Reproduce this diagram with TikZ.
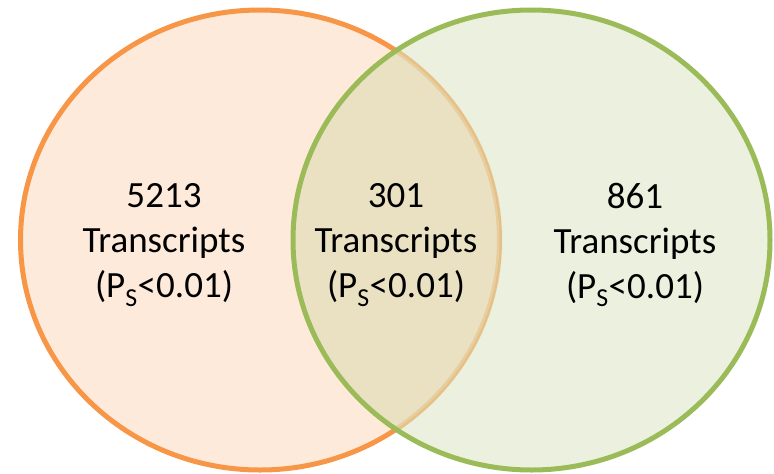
\documentclass[tikz,border=0pt]{standalone}
\usepackage{fontspec}
\setmainfont{Carlito}
\definecolor{orstroke}{HTML}{F79646}
\definecolor{grstroke}{HTML}{9BBB59}
\definecolor{overlapc}{HTML}{E9E3C4}
\begin{document}
\begin{tikzpicture}[x=1pt,y=-1pt,
  setA/.style={fill=orstroke,fill opacity=0.2,draw=orstroke,line width=5pt},
  lbl/.style={font=\fontsize{37}{45}\selectfont,align=center,text=black,inner sep=0pt}]
\useasboundingbox (0,0) rectangle (774,474);
\path[setA] (260,240) ellipse [x radius=239.5, y radius=230];
\path[fill=grstroke,fill opacity=0.2] (531.5,240) ellipse [x radius=238.5, y radius=230];
\begin{scope}
  \clip (531.5,240) ellipse [x radius=238.5, y radius=230];
  \fill[overlapc,fill opacity=0.4] (260,240) ellipse [x radius=239.5, y radius=230];
  \draw[draw=overlapc,draw opacity=0.5,line width=6pt] (260,240) ellipse [x radius=239.5, y radius=230];
\end{scope}
\draw[draw=grstroke,line width=5pt] (531.5,240) ellipse [x radius=238.5, y radius=230];
\node[lbl] (a) at (164,245) {5213\\Transcripts\\(P\textsubscript{S}<0.01)};
\node[lbl] (ab) at (396,245) {301\\Transcripts\\(P\textsubscript{S}<0.01)};
\node[lbl] (b) at (635,245) {861\\Transcripts\\(P\textsubscript{S}<0.01)};
\end{tikzpicture}
\end{document}
